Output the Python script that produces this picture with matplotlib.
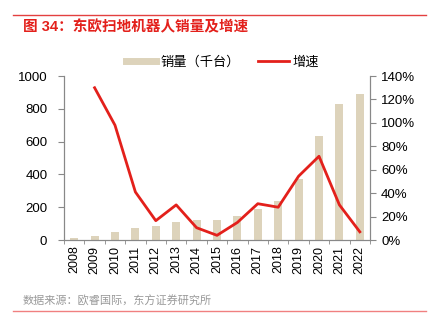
import numpy as np
import matplotlib
matplotlib.use("Agg")
import matplotlib.pyplot as plt
from matplotlib.lines import Line2D

plt.rcParams['font.family'] = ['Liberation Sans', 'Noto Sans CJK SC']

years = ['2008', '2009', '2010', '2011', '2012', '2013', '2014', '2015',
         '2016', '2017', '2018', '2019', '2020', '2021', '2022']
sales = [10, 26, 50, 71, 85, 108, 122, 124, 146, 189, 238, 371, 633, 828, 889]
growth = [None, 130, 98, 41, 16.5, 30, 10.5, 4, 15, 31, 28, 54.5, 71.5, 30, 7]

bar_color = '#DDD3BB'
line_color = '#E3201B'
axis_color = '#888888'

fig = plt.figure(figsize=(4.28, 3.27), dpi=100)
ax = fig.add_axes([0.1495, 0.266, 0.715, 0.5015])
ax2 = ax.twinx()

x = np.arange(len(years))
ax.bar(x, sales, width=0.4, color=bar_color, zorder=2)
g = np.array([np.nan if v is None else v for v in growth], dtype=float)
ax2.plot(x, g, color=line_color, lw=2, zorder=3)

ax.set_xlim(-0.5, len(years) - 0.5)
ax.set_ylim(0, 1000)
ax.set_yticks(range(0, 1001, 200))
ax2.set_ylim(0, 140)
ax2.set_yticks(range(0, 141, 20))
ax2.set_yticklabels([f'{v}%' for v in range(0, 141, 20)])

ax.set_xticks(x)
ax.set_xticklabels(years, rotation=90)
ax.set_xticks(np.arange(-0.5, len(years), 1), minor=True)
ax.tick_params(axis='x', which='major', length=0, pad=4, labelsize=9)
ax.tick_params(axis='x', which='minor', length=3, color=axis_color)
ax.tick_params(axis='y', length=4, color=axis_color, labelsize=9.5, pad=8)
ax2.tick_params(axis='y', length=4, color=axis_color, labelsize=9.5, pad=4)

for a in (ax, ax2):
    a.spines['top'].set_visible(False)
    for s in ['left', 'right', 'bottom']:
        a.spines[s].set_color(axis_color)
        a.spines[s].set_linewidth(0.8)

handles = [Line2D([0], [0], color=bar_color, lw=5),
           Line2D([0], [0], color=line_color, lw=2)]
fig.legend(handles, ['销量（千台）', '增速'], loc='center', ncol=2,
           bbox_to_anchor=(0.52, 0.81), frameon=False, fontsize=9.5,
           handlelength=2.3, columnspacing=1.4, handletextpad=0.3)

fig.add_artist(Line2D([0.03, 0.995], [0.955, 0.955], color='#E34040', lw=1))
fig.text(0.054, 0.918, '图 34：东欧扫地机器人销量及增速', color='#E3201B',
         fontsize=10.5, fontweight='bold', va='center')
fig.text(0.052, 0.078, '数据来源：欧睿国际，东方证券研究所', color='#999999',
         fontsize=8, va='center')
fig.add_artist(Line2D([0.03, 0.995], [0.05, 0.05], color='#F08080', lw=1))

fig.savefig('out.png', dpi=100)
